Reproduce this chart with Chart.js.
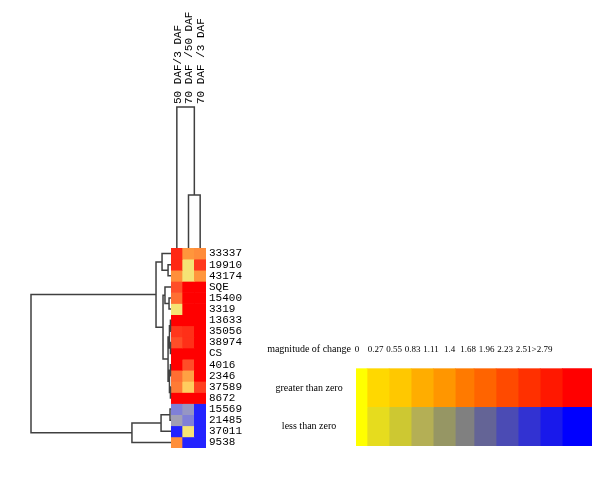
<!DOCTYPE html>
<html>
<head>
<meta charset="utf-8">
<script src="https://cdn.jsdelivr.net/npm/chart.js@4.4.1/dist/chart.umd.min.js"></script>
<style>
    html, body { margin: 0; padding: 0; background: #fff; }
    #wrap { position: relative; width: 600px; height: 487px; }
    #heatWrap { position: absolute; left: 0; top: 0; width: 600px; height: 487px; }
    #keyWrap { position: absolute; left: 260px; top: 330px; width: 340px; height: 116px; }
    #tickWrap { position: absolute; left: 340px; top: 334px; width: 230px; height: 20px; }
</style>
</head>
<body>
<div id="wrap">
    <div id="heatWrap"><canvas id="heatChart"></canvas></div>
    <div id="keyWrap"><canvas id="keyChart"></canvas></div>
    <div id="tickWrap"><canvas id="tickChart"></canvas></div>
</div>
<script>
// Genes in clustered order, top to bottom
const rowLabels = ['33337', '19910', '43174', 'SQE', '15400', '3319', '13633', '35056', '38974',
    'CS', '4016', '2346', '37589', '8672', '15569', '21485', '37011', '9538'];
const colLabels = ['50 DAF/3 DAF', '70 DAF /50 DAF', '70 DAF /3 DAF'];

// Magnitude of change for each comparison (negative = less than zero)
const daf50vs3 = [2.5, 2.5, 1.1, 2.0, 1.6, 0.1, 3.0, 2.3, 2.0, 3.0, 3.0, 1.6, 1.4, 3.0, -1.5, -0.6, -3.0, 1.1];
const daf70vs50 = [1.0, 0.1, 0.1, 3.0, 3.0, 3.0, 3.0, 2.4, 2.4, 3.0, 2.0, 0.9, 0.5, 3.0, -0.8, -1.5, 0.1, -3.0];
const daf70vs3 = [1.15, 2.3, 1.0, 3.0, 3.0, 3.0, 3.0, 3.0, 3.0, 3.0, 3.0, 3.0, 2.2, 3.0, -3.0, -3.0, -3.0, -3.0];

// Dendrogram merges: [left, right, height]; ids past the leaves refer to earlier merges
const rowMerges = [
    [6, 7, 0.004], [8, 9, 0.004], [10, 11, 0.004], [12, 13, 0.004],
    [18, 19, 0.011], [20, 21, 0.011], [22, 23, 0.021],
    [4, 5, 0.014], [3, 25, 0.043], [26, 24, 0.057],
    [1, 2, 0.021], [0, 28, 0.064], [29, 27, 0.107],
    [14, 15, 0.007], [31, 16, 0.071], [32, 17, 0.279],
    [30, 33, 1.0]
];
const colMerges = [[1, 2, 0.376], [0, 3, 1.0]];

// Colour key
const keyRows = ['magnitude of change', 'greater than zero', 'less than zero'];
const keyTicks = ['0', '0.27', '0.55', '0.83', '1.11', '1.4', '1.68', '1.96', '2.23', '2.51', '>2.79'];
const keyBinWidths = [0.5, 1, 1, 1, 1, 0.85, 1, 1, 1, 1, 1.35];
const keyPosColors = ['#ffff00', '#ffd800', '#ffc800', '#ffad00', '#ff9600', '#ff7a00', '#ff6400',
    '#ff4a00', '#ff3000', '#ff1800', '#ff0000'];
const keyNegColors = ['#ffff00', '#e6dc1e', '#cdc832', '#b4af55', '#969664', '#808080', '#646496',
    '#4b4bb4', '#3232d2', '#1919eb', '#0000ff'];

// Cell colour ramps (value -> rgb)
const posStops = [[0, [242, 232, 122]], [0.5, [255, 205, 95]], [1.0, [255, 150, 60]], [1.6, [255, 110, 50]],
    [2.0, [255, 78, 40]], [2.5, [255, 40, 20]], [2.8, [255, 0, 0]]];
const negStops = [[0, [242, 232, 122]], [0.5, [168, 165, 172]], [0.8, [150, 150, 195]], [1.5, [128, 128, 215]],
    [2.8, [35, 35, 255]]];

function cellColor(v) {
    const stops = v < 0 ? negStops : posStops;
    const a = Math.min(Math.abs(v), stops[stops.length - 1][0]);
    for (let i = 1; i < stops.length; i++) {
        if (a <= stops[i][0]) {
            const [a0, c0] = stops[i - 1];
            const [a1, c1] = stops[i];
            const t = (a - a0) / (a1 - a0);
            const c = c0.map((ch, k) => Math.round(ch + (c1[k] - ch) * t));
            return 'rgb(' + c.join(',') + ')';
        }
    }
    return 'rgb(' + stops[stops.length - 1][1].join(',') + ')';
}

// Build U-shaped links for a dendrogram, gaps between links
function treeLines(merges, n, toPoint) {
    const pos = [];
    const height = [];
    for (let i = 0; i < n; i++) { pos.push(i); height.push(0); }
    const pts = [];
    merges.forEach(([a, b, h]) => {
        pts.push(toPoint(height[a], pos[a]), toPoint(h, pos[a]), toPoint(h, pos[b]), toPoint(height[b], pos[b]));
        pts.push({ x: null, y: null });
        pos.push((pos[a] + pos[b]) / 2);
        height.push(h);
    });
    return pts;
}

const monoFont = { family: "'Liberation Mono', 'DejaVu Sans Mono', monospace", size: 11, lineHeight: 1.2 };
const serifFont = { family: "'Liberation Serif', 'DejaVu Serif', serif", size: 10, lineHeight: 1.2 };
const tickFont = { family: "'Liberation Serif', 'DejaVu Serif', serif", size: 9, lineHeight: 1.2 };
const treeColor = '#404040';
const noGrid = { display: false, drawTicks: false };

const columns = [daf50vs3, daf70vs50, daf70vs3];

// Heatmap: one stacked bar dataset per gene row
const cellSets = rowLabels.map((name, r) => ({
    type: 'bar',
    label: name,
    data: columns.map(() => 1),
    backgroundColor: columns.map(col => cellColor(col[r])),
    borderWidth: 0,
    barPercentage: 1,
    categoryPercentage: 1,
    grouped: false,
    xAxisID: 'x',
    yAxisID: 'y',
    order: 1
}));

const rowTree = {
    type: 'line',
    data: treeLines(rowMerges, rowLabels.length, (h, p) => ({ x: h, y: p + 0.5 })),
    borderColor: treeColor,
    borderWidth: 1.5,
    pointRadius: 0,
    tension: 0,
    spanGaps: false,
    clip: false,
    xAxisID: 'dx',
    yAxisID: 'yRow',
    order: 0
};

const colTree = {
    type: 'line',
    data: treeLines(colMerges, colLabels.length, (h, p) => ({ x: p, y: h })),
    borderColor: treeColor,
    borderWidth: 1.5,
    pointRadius: 0,
    tension: 0,
    spanGaps: false,
    clip: false,
    xAxisID: 'xc',
    yAxisID: 'yc',
    order: 0
};

new Chart(document.getElementById('heatChart'), {
    type: 'bar',
    data: {
        labels: colLabels,
        datasets: [rowTree, colTree, ...cellSets]
    },
    options: {
        responsive: true,
        maintainAspectRatio: false,
        animation: false,
        layout: { padding: { left: 171, right: 334, top: 0, bottom: 39 } },
        plugins: { legend: { display: false }, tooltip: { enabled: false } },
        scales: {
            x: {
                type: 'category',
                position: 'top',
                stacked: true,
                offset: true,
                grid: noGrid,
                border: { display: false },
                ticks: {
                    minRotation: 90, maxRotation: 90, autoSkip: false, padding: 144, labelOffset: 14,
                    color: '#000', font: monoFont
                },
                afterFit: (s) => { s.height = 248; s.paddingLeft = 0; s.paddingRight = 0; }
            },
            y: { type: 'linear', stacked: true, min: 0, max: rowLabels.length, reverse: true, display: false },
            rows: {
                type: 'category',
                position: 'right',
                labels: rowLabels,
                offset: true,
                grid: noGrid,
                border: { display: false },
                ticks: { autoSkip: false, padding: 3, color: '#000', font: monoFont },
                afterFit: (s) => { s.width = 60; s.paddingTop = 0; s.paddingBottom = 0; }
            },
            yRow: { type: 'linear', min: 0, max: rowLabels.length, reverse: true, display: false },
            dx: { type: 'linear', axis: 'x', position: 'bottom', offset: false, min: -0.25, max: 0, reverse: true, display: false },
            xc: { type: 'linear', axis: 'x', position: 'bottom', offset: false, min: -0.5, max: colLabels.length - 0.5, display: false },
            yc: { type: 'linear', axis: 'y', position: 'left', offset: false, min: -1.418, max: 0, display: false }
        }
    }
});

// Colour key as a stacked horizontal bar chart
const keyTotal = keyBinWidths.reduce((a, b) => a + b, 0);
const keySets = keyBinWidths.map((w, k) => ({
    data: [null, w, w],
    backgroundColor: ['rgba(0,0,0,0)', keyPosColors[k], keyNegColors[k]],
    borderWidth: 0,
    barPercentage: 1,
    categoryPercentage: 1
}));

new Chart(document.getElementById('keyChart'), {
    type: 'bar',
    data: { labels: keyRows, datasets: keySets },
    options: {
        indexAxis: 'y',
        responsive: true,
        maintainAspectRatio: false,
        animation: false,
        layout: { padding: { left: 0, right: 8, top: 0, bottom: 0 } },
        plugins: { legend: { display: false }, tooltip: { enabled: false } },
        scales: {
            x: { type: 'linear', stacked: true, min: 0, max: keyTotal, display: false },
            y: {
                type: 'category',
                stacked: true,
                grid: noGrid,
                border: { display: false },
                ticks: { crossAlign: 'center', padding: 5, autoSkip: false, color: '#000', font: serifFont },
                afterFit: (s) => { s.width = 96; s.paddingTop = 0; s.paddingBottom = 0; }
            }
        }
    }
});

// Magnitude tick row of the key
new Chart(document.getElementById('tickChart'), {
    type: 'bar',
    data: { labels: keyTicks, datasets: [] },
    options: {
        responsive: true,
        maintainAspectRatio: false,
        animation: false,
        layout: { padding: { left: 17, right: 28, top: 0, bottom: 0 } },
        plugins: { legend: { display: false }, tooltip: { enabled: false } },
        scales: {
            x: {
                type: 'category',
                position: 'bottom',
                offset: false,
                grid: noGrid,
                border: { display: false },
                ticks: { autoSkip: false, minRotation: 0, maxRotation: 0, padding: 0, color: '#000', font: tickFont },
                afterFit: (s) => { s.paddingLeft = 0; s.paddingRight = 0; }
            },
            y: { display: false }
        }
    }
});
</script>
</body>
</html>
